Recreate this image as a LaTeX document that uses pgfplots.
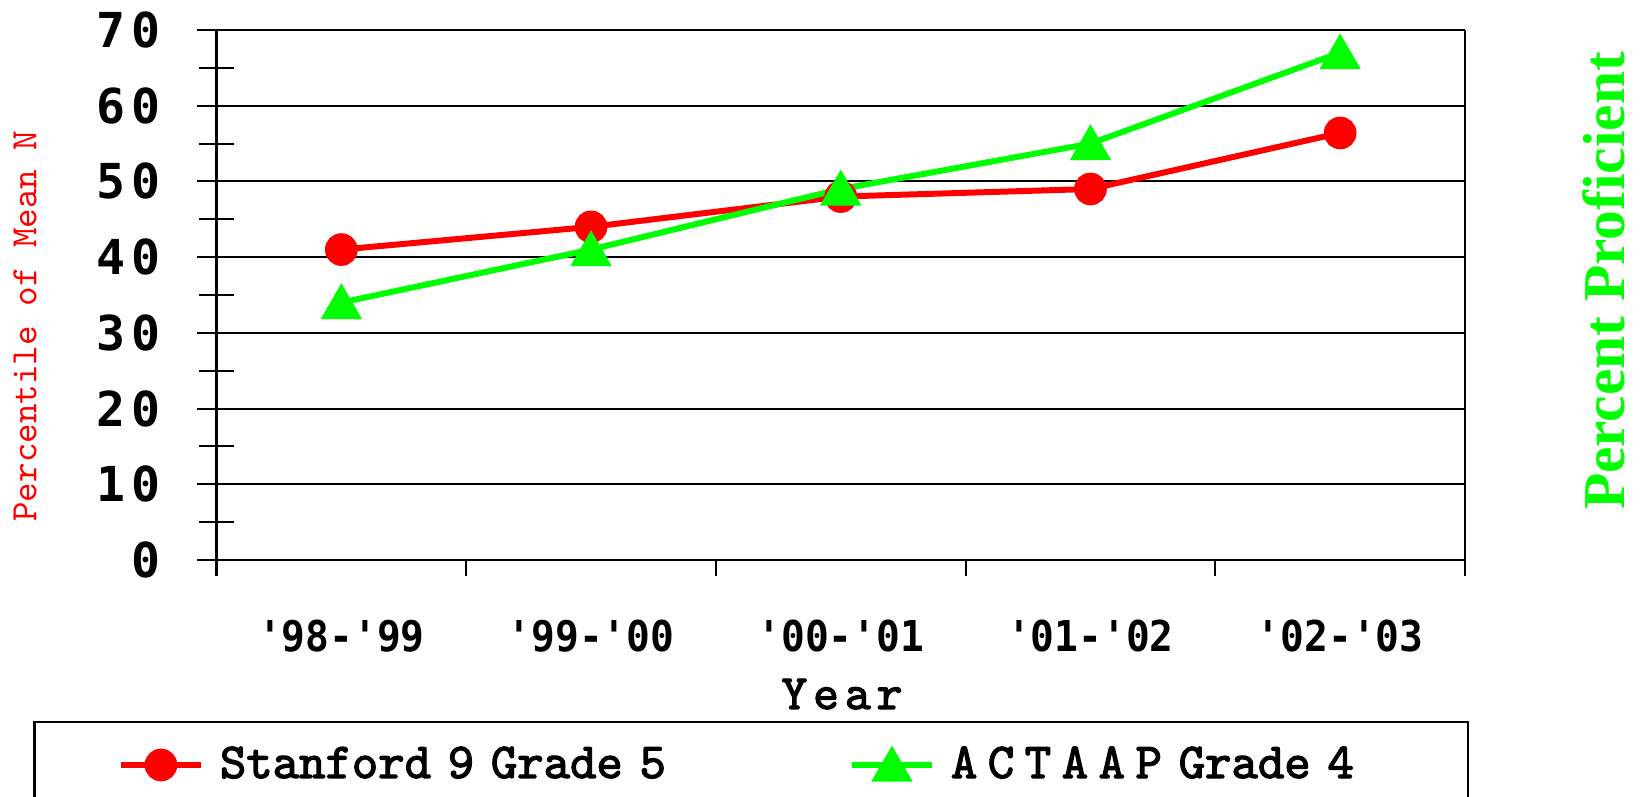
\documentclass[border=0pt]{standalone}
\usepackage{pgfplots}
\pgfplotsset{compat=1.18}
\usepackage{fontspec}
\setmainfont{Liberation Mono}
\newfontfamily\ytfont{DejaVu Sans Mono}[LetterSpace=12.7]
\newfontfamily\xtfont{DejaVu Sans Mono}[FakeStretch=0.93]
\newfontfamily\cour{lmmono10-regular.otf}[BoldFont=lmmono10-regular.otf, BoldFeatures={FakeBold=2.5}]
\newfontfamily\courwide{lmmono10-regular.otf}[BoldFont=lmmono10-regular.otf, BoldFeatures={FakeBold=2.5}, LetterSpace=21]
\newfontfamily\couryear{lmmono10-regular.otf}[BoldFont=lmmono10-regular.otf, BoldFeatures={FakeBold=2.5}, LetterSpace=12]
\newfontfamily\tserif{Liberation Serif}
\definecolor{xlred}{RGB}{255,0,0}
\definecolor{xlgreen}{RGB}{0,255,0}

% 1 px of the reference = 0.01cm
\begin{document}
\begin{tikzpicture}
\begin{axis}[
  at={(2.165cm,2.37cm)}, anchor=south west,
  scale only axis, width=12.485cm, height=5.30cm,
  xmin=0, xmax=5, ymin=0, ymax=70,
  axis lines=left, axis line style={-, line width=0.85pt},
  xtick=\empty,
  ytick={0,10,...,70}, minor ytick={5,15,...,65},
  tick align=center, major tick length=0.38cm, minor tick length=0.34cm,
  tick style={line width=0.6pt, black},
  ymajorgrids, major grid style={line width=0.6pt, black},
  /pgf/number format/assume math mode=true,
  yticklabel style={font=\ytfont\bfseries\fontsize{13.7}{14}\selectfont,
    anchor=east, inner sep=0pt, xshift=-0.36cm},
  ylabel={Percentile of Mean N},
  ylabel style={at={(axis description cs:-0.1534,0.4415)}, anchor=center,
    font=\cour\fontsize{10.6}{11}\selectfont, text=xlred},
  clip=false,
  legend columns=2,
  legend cell align=left,
  legend image code/.code={
    \draw[mark repeat=2, mark phase=2, #1] plot coordinates {(0cm,0cm) (0.4cm,0cm) (0.8cm,0cm)};},
  legend style={draw=none, fill=none, inner sep=0pt, outer sep=0pt,
    at={(axis description cs:-0.0789,-0.3868)}, anchor=west,
    font=\cour\bfseries\fontsize{14.3}{15}\selectfont,
    nodes={inner sep=0pt, text width=6.29cm, align=left},
    /tikz/every odd column/.append style={column sep=0.16cm}},
]
\addplot[xlred, line width=1.7pt, mark=*, mark size=3.8pt,
  mark options={solid, fill=xlred, draw=xlred}]
  coordinates {(0.5,41) (1.5,44) (2.5,48) (3.5,49) (4.5,56.4)};
\addlegendentry{Stanford 9 Grade 5}
\addplot[xlgreen, line width=1.7pt, mark=triangle*, mark size=5.1pt,
  mark options={solid, fill=xlgreen, draw=xlgreen, yshift=-1.3pt}]
  coordinates {(0.5,34) (1.5,41) (2.5,49) (3.5,55) (4.5,67)};
\addlegendentry{{\courwide ACTAAP }Grade 4}
\draw[line width=0.6pt] (axis cs:5,0) -- (axis cs:5,70);
\node[rotate=90, font=\tserif\bfseries\fontsize{16.9}{17}\selectfont, text=xlgreen]
  at (rel axis cs:1.1113,0.5264) {Percent Proficient};
\end{axis}

% x axis: boundary ticks pointing out, category names between them
\begin{axis}[
  at={(2.165cm,2.37cm)}, anchor=south west,
  scale only axis, width=12.485cm, height=5.30cm,
  xmin=0, xmax=5, ymin=0, ymax=70,
  axis x line=bottom, axis y line=none, axis line style={-, line width=0.85pt},
  ytick=\empty,
  xtick={0,1,2,3,4,5}, xticklabels={,,,,,},
  tick align=outside, major tick length=0.16cm,
  tick style={line width=0.6pt, black},
  extra x ticks={0.5,1.5,2.5,3.5,4.5},
  extra x tick labels={'98-'99,'99-'00,'00-'01,'01-'02,'02-'03},
  extra x tick style={major tick length=0pt,
    tick label style={font=\xtfont\bfseries\fontsize{12.1}{13}\selectfont,
      anchor=base, inner sep=0pt, yshift=-0.91cm}},
  xlabel={Year},
  xlabel style={at={(axis description cs:0.501,-0.2811)}, anchor=base,
    font=\couryear\bfseries\fontsize{14}{15}\selectfont},
]
\end{axis}

\draw[line width=0.6pt] (0.345,0.75) rectangle (14.68,-0.5);
\pgfresetboundingbox
\path[use as bounding box] (0,0) rectangle (16.4,7.97);
\end{tikzpicture}
\end{document}
